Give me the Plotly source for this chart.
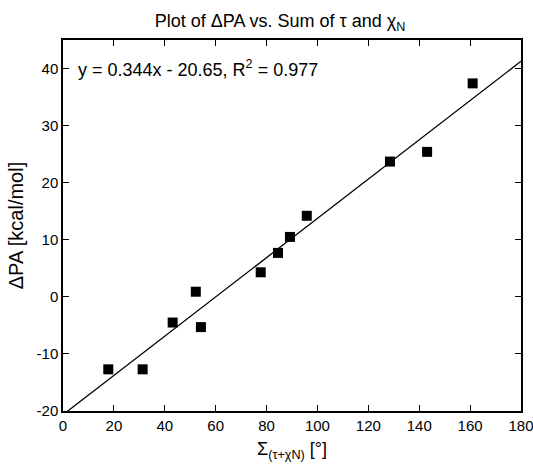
import plotly.graph_objects as go

sum_tau_chi = [17.8, 31.3, 43.1, 52.2, 54.2, 77.7, 84.5, 89.2, 95.8, 128.5, 143.1, 161.0]
delta_pa = [-12.7, -12.7, -4.5, 0.9, -5.3, 4.3, 7.7, 10.5, 14.2, 23.7, 25.4, 37.4]
slope = 0.344
intercept = -20.65
r2 = 0.977
fit_x = [0, 180]
fit_y = [slope * v + intercept for v in fit_x]

x_tick_vals = [0, 20, 40, 60, 80, 100, 120, 140, 160, 180]
x_tick_text = ["0", "20", "40", "60", "80", "100", "120", "140", "160", "180"]
y_tick_vals = [-20, -10, 0, 10, 20, 30, 40]
y_tick_text = ["-20", "-10", "0", "10", "20", "30", "40"]

FONT = "Liberation Sans, Arial, sans-serif"

fig = go.Figure()
fig.add_trace(go.Scatter(x=fit_x, y=fit_y, mode="lines",
                         line=dict(color="black", width=1.3), showlegend=False,
                         hoverinfo="skip"))
fig.add_trace(go.Scatter(x=sum_tau_chi, y=delta_pa, mode="markers",
                         marker=dict(symbol="square", size=10, color="black"),
                         showlegend=False))

fig.add_annotation(xref="paper", yref="y", x=0.028, y=40, xanchor="left", yanchor="middle",
                   text=f"y = {slope}x - {abs(intercept)}, R<sup>2</sup> = {r2}",
                   showarrow=False, font=dict(family=FONT, size=18, color="black"))

axis_common = dict(showgrid=False, zeroline=False, showline=True, linecolor="black",
                   linewidth=1.5, mirror="ticks", ticks="inside", ticklen=6,
                   tickcolor="black", tickwidth=1.2, automargin=False,
                   ticklabeloverflow="allow",
                   tickfont=dict(family=FONT, size=15, color="black"))

fig.update_layout(
    width=533, height=464,
    margin=dict(l=63, r=12, t=40, b=53),
    plot_bgcolor="white", paper_bgcolor="white",
    title=dict(text="Plot of ΔPA vs. Sum of τ and χ<sub>N</sub>", x=280/533, xanchor="center",
               xref="container", yref="container",
               y=1 - 21/464, yanchor="middle",
               font=dict(family=FONT, size=18, color="black")),
    xaxis=dict(range=[0, 180], tickmode="array", tickvals=x_tick_vals, ticktext=x_tick_text,
               title=dict(text="Σ<sub>(τ+χN)</sub> [°]", font=dict(family=FONT, size=18, color="black"),
                          standoff=10),
               **axis_common),
    yaxis=dict(range=[-20, 45], tickmode="array", tickvals=y_tick_vals, ticktext=y_tick_text,
               title=dict(text="ΔPA [kcal/mol]", font=dict(family=FONT, size=20, color="black"),
                          standoff=8),
               **axis_common),
)

fig.write_html("out.html", config={"displayModeBar": False},
               post_script="document.body.style.margin='0';document.body.style.padding='0';")
